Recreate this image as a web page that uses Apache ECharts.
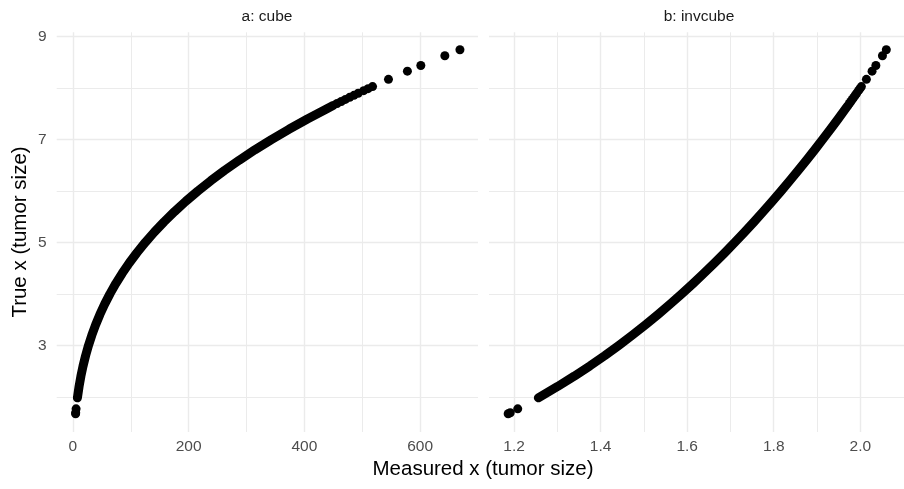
<!DOCTYPE html>
<html>
<head>
<meta charset="utf-8">
<script src="https://cdn.jsdelivr.net/npm/echarts@6/dist/echarts.min.js"></script>
<style>
  html, body { margin: 0; padding: 0; background: #fff; }
  #chart { width: 904px; height: 489px; }
</style>
</head>
<body>
<div id="chart"></div>
<script>
  // true tumour size along the dense stretch, and its measured value in each panel
  const bandTrue = [1.98, 2.0, 2.2, 2.4, 2.6, 2.8, 3.0, 3.2, 3.4, 3.6, 3.8, 4.0, 4.2, 4.4, 4.6, 4.8,
    5.0, 5.2, 5.4, 5.6, 5.8, 6.0, 6.2, 6.4, 6.6, 6.8, 7.0, 7.2, 7.4, 7.6, 7.66];
  const bandCube = [7.76, 8.0, 10.65, 13.82, 17.58, 21.95, 27.0, 32.77, 39.3, 46.66, 54.87, 64.0, 74.09,
    85.18, 97.34, 110.59, 125.0, 140.61, 157.46, 175.62, 195.11, 216.0, 238.33, 262.14, 287.5, 314.43,
    343.0, 373.25, 405.22, 438.98, 449.45];
  const bandInvcube = [1.2560, 1.2599, 1.3006, 1.3389, 1.3751, 1.4095, 1.4422, 1.4736, 1.5037, 1.5326,
    1.5605, 1.5874, 1.6134, 1.6386, 1.6631, 1.6869, 1.7100, 1.7325, 1.7544, 1.7758, 1.7967, 1.8171,
    1.8371, 1.8566, 1.8758, 1.8945, 1.9129, 1.9310, 1.9487, 1.9661, 1.9713];

  // the separate points at both ends
  const sparseTrue = [1.67, 1.69, 1.765, 7.70, 7.74, 7.78, 7.82, 7.86, 7.90, 7.95, 7.99, 8.03,
    8.17, 8.33, 8.44, 8.63, 8.745];
  const sparseCube = [4.66, 4.83, 5.50, 456.5, 463.7, 470.9, 478.2, 485.6, 493.0, 502.5, 510.1, 517.8,
    545.3, 578.0, 601.2, 642.7, 668.8];
  const sparseInvcube = [1.1863, 1.1911, 1.2084, 1.9747, 1.9781, 1.9815, 1.9849, 1.9883, 1.9916,
    1.9958, 1.9992, 2.0025, 2.0141, 2.0272, 2.0360, 2.0512, 2.0601];

  // tick labels / grid lines
  const cubeTicks = [0, 200, 400, 600];
  const cubeMinor = [100, 300, 500];
  const invTicks = [1.2, 1.4, 1.6, 1.8, 2.0];
  const invMinor = [1.3, 1.5, 1.7, 1.9];
  const yTicks = [3, 5, 7, 9];
  const yMinor = [2, 4, 6, 8];

  const FONT = '"Liberation Sans", Arial, sans-serif';
  const GRID_COLOR = '#EBEBEB';

  function pairs(xs, ys) {
    return xs.map((v, i) => [v, ys[i]]);
  }

  // axis that only draws labels + major grid lines
  function majorAxis(gridIndex, min, max, ticks, showLabel, isX) {
    return {
      type: 'value',
      gridIndex: gridIndex,
      min: min,
      max: max,
      axisLine: { show: false },
      axisTick: { show: false, customValues: ticks },
      axisLabel: {
        show: showLabel,
        customValues: ticks,
        color: '#4D4D4D',
        fontSize: 15.5,
        fontFamily: FONT,
        margin: isX ? 7 : 10,
        formatter: v => (isX && max < 10) ? v.toFixed(1) : String(v)
      },
      splitLine: { show: true, lineStyle: { color: GRID_COLOR, width: 1.4 } }
    };
  }

  // invisible axis on the same grid, used for the thinner minor lines
  function minorAxis(gridIndex, min, max, ticks) {
    return {
      type: 'value',
      gridIndex: gridIndex,
      min: min,
      max: max,
      axisLine: { show: false },
      axisTick: { show: false, customValues: ticks },
      axisLabel: { show: false },
      splitLine: { show: true, lineStyle: { color: GRID_COLOR, width: 1 } }
    };
  }

  function bandSeries(xi, yi, data) {
    return {
      type: 'line',
      xAxisIndex: xi,
      yAxisIndex: yi,
      data: data,
      symbol: 'none',
      silent: true,
      lineStyle: { color: '#000', width: 9, cap: 'round', join: 'round' },
      z: 3
    };
  }

  function pointSeries(xi, yi, data) {
    return {
      type: 'scatter',
      xAxisIndex: xi,
      yAxisIndex: yi,
      data: data,
      symbolSize: 9,
      silent: true,
      itemStyle: { color: '#000', opacity: 1 },
      z: 3
    };
  }

  const chart = echarts.init(document.getElementById('chart'), null, { renderer: 'canvas' });

  chart.setOption({
    animation: false,
    backgroundColor: '#fff',
    grid: [
      { left: 56.7, top: 32.3, width: 421.3, height: 399.7 },
      { left: 489, top: 32.3, width: 421, height: 399.7 }
    ],
    xAxis: [
      majorAxis(0, -28, 700, cubeTicks, true, true),
      minorAxis(0, -28, 700, cubeMinor),
      majorAxis(1, 1.142, 2.101, invTicks, true, true),
      minorAxis(1, 1.142, 2.101, invMinor)
    ],
    yAxis: [
      majorAxis(0, 1.315, 9.085, yTicks, true, false),
      minorAxis(0, 1.315, 9.085, yMinor),
      majorAxis(1, 1.315, 9.085, yTicks, false, false),
      minorAxis(1, 1.315, 9.085, yMinor)
    ],
    graphic: [
      {
        type: 'text', x: 267, y: 17, silent: true,
        style: { text: 'a: cube', fill: '#1A1A1A', font: '15.5px ' + FONT, align: 'center', verticalAlign: 'middle' }
      },
      {
        type: 'text', x: 699, y: 17, silent: true,
        style: { text: 'b: invcube', fill: '#1A1A1A', font: '15.5px ' + FONT, align: 'center', verticalAlign: 'middle' }
      },
      {
        type: 'text', x: 483, y: 469, silent: true,
        style: { text: 'Measured x (tumor size)', fill: '#000', font: '20.5px ' + FONT, align: 'center', verticalAlign: 'middle' }
      },
      {
        type: 'text', x: 20, y: 232, rotation: Math.PI / 2, silent: true,
        style: { text: 'True x (tumor size)', fill: '#000', font: '20.5px ' + FONT, align: 'center', verticalAlign: 'middle' }
      }
    ],
    series: [
      bandSeries(0, 0, pairs(bandCube, bandTrue)),
      pointSeries(0, 0, pairs(sparseCube, sparseTrue)),
      bandSeries(2, 2, pairs(bandInvcube, bandTrue)),
      pointSeries(2, 2, pairs(sparseInvcube, sparseTrue))
    ]
  });
</script>
</body>
</html>
